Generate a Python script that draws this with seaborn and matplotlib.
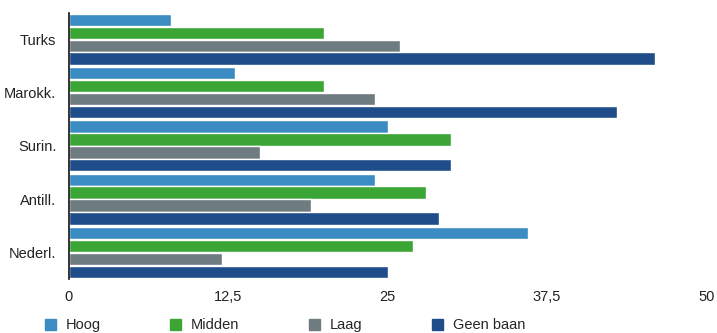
import numpy as np
import pandas as pd
import seaborn as sns
import matplotlib.pyplot as plt

groups = ["Turks", "Marokk.", "Surin.", "Antill.", "Nederl."]
series = ["Hoog", "Midden", "Laag", "Geen baan"]
hoog = [8, 13, 25, 24, 36]
midden = [20, 20, 30, 28, 27]
laag = [26, 24, 15, 19, 12]
geen_baan = [46, 43, 30, 29, 25]
colors = ["#3a8cc2", "#3ba535", "#6e7b80", "#1e4d8a"]

rows = []
for name, vals in zip(series, [hoog, midden, laag, geen_baan]):
    for g, v in zip(groups, vals):
        rows.append({"groep": g, "opleiding": name, "waarde": v})
df = pd.DataFrame(rows)

sns.set_style("white")
plt.rcParams['font.family'] = ['Liberation Sans', 'DejaVu Sans']

fig = plt.figure(figsize=(7.17, 3.33), dpi=100)
ax = fig.add_axes([0.096, 0.162, 0.889, 0.80])

sns.barplot(data=df, y="groep", x="waarde", hue="opleiding",
            order=groups, hue_order=series, palette=colors,
            orient="h", width=0.97, gap=0.04, saturation=1,
            errorbar=None, ax=ax)

ax.set_xlim(0, 50)
ax.set_xticks([0, 12.5, 25, 37.5, 50])
ax.set_xticklabels(["0", "12,5", "25", "37,5", "50"], fontsize=10.5, color="#222222")
ax.set_yticklabels(groups, fontsize=10.5, color="#222222")
ax.tick_params(axis="x", length=0, pad=8)
ax.tick_params(axis="y", length=0, pad=9)
ax.set_xlabel("")
ax.set_ylabel("")
for s in ["top", "right", "bottom"]:
    ax.spines[s].set_visible(False)
ax.spines["left"].set_color("#111111")
ax.spines["left"].set_linewidth(1.2)

ax.get_legend().remove()
handles = [plt.Rectangle((0, 0), 1, 1, color=c) for c in colors]
leg = fig.legend(handles, series, loc="lower left", bbox_to_anchor=(0.045, -0.035),
                 ncol=4, frameon=False, fontsize=10, handlelength=0.8,
                 handleheight=0.8, handletextpad=0.7, columnspacing=5.0)
for t in leg.get_texts():
    t.set_fontsize(10.5)

fig.savefig("out.png", dpi=100)
